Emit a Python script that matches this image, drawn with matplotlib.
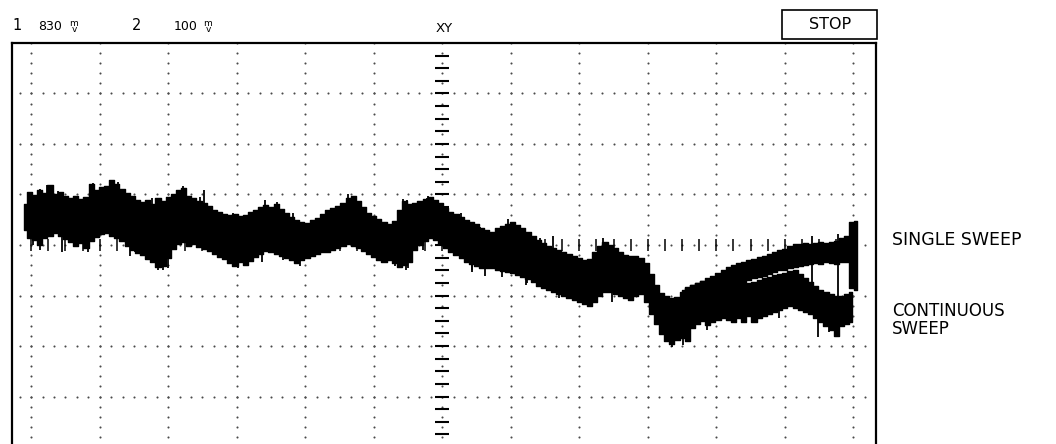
import numpy as np
import matplotlib
matplotlib.use("Agg")
import matplotlib.pyplot as plt
from matplotlib.patches import Rectangle

# ---------------------------------------------------------------------------
# Trace data, in screen divisions (x: time div, y: vertical div from centre)
# ---------------------------------------------------------------------------
T0 = -6.10          # time of first stored sample (div)
DT = 0.075          # sample spacing (div)

# Continuous-sweep persistence envelope (upper and lower edge of the band)
cont_top = [
    0.81, 1.05, 0.99, 1.09, 1.03, 1.19, 1.01, 1.05, 0.97, 0.93,
    0.97, 0.91, 0.95, 1.21, 1.09, 1.15, 1.17, 1.29, 1.21, 1.11,
    1.03, 0.97, 0.89, 0.85, 0.89, 0.81, 0.93, 0.87, 0.95, 1.01,
    1.09, 1.13, 0.97, 0.93, 0.87, 0.83, 0.77, 0.69, 0.65, 0.61,
    0.59, 0.61, 0.57, 0.59, 0.65, 0.69, 0.75, 0.79, 0.75, 0.81,
    0.71, 0.63, 0.55, 0.50, 0.46, 0.44, 0.50, 0.53, 0.61, 0.69,
    0.73, 0.77, 0.83, 0.93, 0.97, 0.87, 0.75, 0.63, 0.57, 0.51,
    0.46, 0.42, 0.48, 0.69, 0.87, 0.81, 0.83, 0.87, 0.91, 0.95,
    0.89, 0.83, 0.73, 0.65, 0.61, 0.55, 0.50, 0.46, 0.42, 0.34,
    0.30, 0.26, 0.34, 0.38, 0.42, 0.46, 0.40, 0.34, 0.26, 0.18,
    0.10, 0.04, -0.02, -0.06, -0.10, -0.14, -0.18, -0.22, -0.26, -0.30,
    -0.28, -0.14, -0.02, 0.06, 0.00, -0.06, -0.14, -0.20, -0.22, -0.22,
    -0.26, -0.36, -0.57, -0.79, -0.95, -1.01, -1.05, -1.03, -0.93, -0.85,
    -0.79, -0.75, -0.71, -0.87, -0.85, -0.85, -0.83, -0.81, -0.79, -0.77,
    -0.75, -0.75, -0.73, -0.69, -0.65, -0.63, -0.59, -0.57, -0.55, -0.51,
    -0.50, -0.57, -0.65, -0.73, -0.81, -0.89, -0.93, -0.97, -1.01, -1.01,
    -0.97, -0.93,
]
cont_bot = [
    0.30, 0.14, 0.10, 0.00, 0.14, 0.18, 0.24, 0.18, 0.12, 0.06,
    -0.02, 0.04, -0.06, 0.08, 0.16, 0.22, 0.24, 0.18, 0.14, 0.08,
    -0.02, -0.10, -0.16, -0.20, -0.28, -0.34, -0.44, -0.42, -0.26, -0.08,
    0.02, 0.06, -0.02, 0.02, -0.04, -0.08, -0.12, -0.18, -0.24, -0.28,
    -0.36, -0.42, -0.34, -0.40, -0.32, -0.24, -0.18, -0.12, -0.14, -0.18,
    -0.22, -0.26, -0.30, -0.36, -0.30, -0.26, -0.22, -0.18, -0.14, -0.14,
    -0.10, -0.06, -0.02, 0.02, -0.02, -0.06, -0.12, -0.18, -0.24, -0.30,
    -0.34, -0.30, -0.36, -0.44, -0.40, -0.34, -0.10, 0.00, 0.08, 0.14,
    0.10, 0.02, -0.06, -0.14, -0.20, -0.26, -0.34, -0.38, -0.42, -0.46,
    -0.46, -0.46, -0.50, -0.51, -0.53, -0.55, -0.59, -0.63, -0.67, -0.73,
    -0.81, -0.85, -0.89, -0.93, -0.97, -1.01, -1.05, -1.09, -1.13, -1.17,
    -1.21, -1.13, -1.01, -0.93, -0.93, -0.97, -1.01, -1.05, -1.09, -1.01,
    -0.97, -1.13, -1.37, -1.56, -1.76, -1.90, -1.96, -1.88, -1.84, -1.90,
    -1.64, -1.56, -1.50, -1.58, -1.52, -1.49, -1.45, -1.49, -1.52, -1.45,
    -1.52, -1.41, -1.52, -1.45, -1.41, -1.37, -1.33, -1.29, -1.25, -1.21,
    -1.25, -1.29, -1.33, -1.37, -1.45, -1.52, -1.60, -1.68, -1.80, -1.60,
    -1.56, -1.52,
]

# Single-sweep trace, separating from the persistence band near the right
SINGLE_START = 128  # sample index where the single-sweep record is stored
single_top = [
    -0.89, -0.83, -0.79, -0.75, -0.71, -0.65, -0.61, -0.55, -0.50, -0.44,
    -0.40, -0.36, -0.34, -0.30, -0.28, -0.24, -0.22, -0.18, -0.14, -0.10,
    -0.08, -0.02, 0.02, 0.02, 0.04, 0.02, 0.04, 0.06, 0.04, 0.06,
    0.08, 0.14, 0.18, 0.46, 0.48,
]
single_bot = [
    -1.17, -1.13, -1.09, -1.05, -1.01, -0.97, -0.93, -0.89, -0.85, -0.79,
    -0.77, -0.79, -0.73, -0.69, -0.65, -0.63, -0.61, -0.57, -0.53, -0.50,
    -0.50, -0.46, -0.44, -0.42, -0.40, -0.38, -0.36, -0.38, -0.34, -0.36,
    -0.38, -0.34, -0.34, -0.85, -0.89,
]

# Isolated noise spikes reaching beyond the band (time, extreme value)
spike_t = [-6.04, -5.87, -5.77, -5.61, -5.10, -4.97, -4.82, -4.73, -4.59,
           -4.24, -3.78, -3.54, -3.48, -3.05, -2.59, -2.41, -2.18, -1.38,
           -0.58, -0.52, -0.23, -0.21, 0.28, 0.55, 0.96, 1.13, 1.42, 1.61,
           2.35, 5.39, 5.77,
           -5.97, -5.87, -5.55, -5.17, -4.56, -4.48, -4.15, -4.08, -4.00,
           -2.98, -2.63, -2.33, -2.08, -0.69, -0.53, -0.50, -0.28, 0.43,
           0.44, 0.63, 0.87, 1.22, 1.23, 1.52, 1.71, 2.47, 3.35, 3.52,
           3.87, 4.92, 5.48, 5.65]
spike_v = [1.05, 1.11, 1.19, 1.07, 1.23, 1.13, 1.29, 1.25, 1.03,
           0.93, 1.17, 0.95, 1.09, 0.63, 0.89, 0.85, 0.63, 1.01,
           0.91, 0.89, 0.93, 0.97, 0.63, 0.36, 0.51, 0.40, 0.14, 0.18,
           0.14, 0.18, 0.22,
           0.00, -0.10, -0.14, -0.14, -0.22, -0.14, -0.50, -0.50, -0.46,
           -0.46, -0.34, -0.30, -0.42, -0.42, -0.50, -0.46, -0.10, -0.53,
           -0.50, -0.61, -0.63, -0.79, -0.75, -0.85, -1.05, -1.13, -2.02, -1.98,
           -1.68, -1.45, -1.82, -1.72]

# Annotation text
ch1_num, ch1_scale = "1", "830"
ch2_num, ch2_scale = "2", "100"
unit_label = "m\nv"
mode_label = "XY"
run_label = "STOP"
single_label = "SINGLE SWEEP"
cont_label = "CONTINUOUS\nSWEEP"

# ---------------------------------------------------------------------------
W, H = 1056, 444
fig = plt.figure(figsize=(W / 100, H / 100), dpi=100)
fig.patch.set_facecolor("white")

# Graticule frame: 12 x 8 divisions; bottom edge runs just past the page
ax = fig.add_axes([12 / W, -3 / H, 864 / W, 404 / H])
ax.set_xlim(-6.28, 6.33)
ax.set_ylim(-4, 4)
ax.set_xticks([])
ax.set_yticks([])
for s in ax.spines.values():
    s.set_linewidth(1.6)
    s.set_color("black")

dot_kw = dict(ls="none", marker="o", ms=1.5, mew=0, color="#4a4a4a", zorder=1)

# Dotted vertical graticule lines (5 dots per division)
vy = np.arange(-20, 21) * 0.2
for gx in range(-6, 7):
    ax.plot(np.full_like(vy, gx), vy, **dot_kw)

# Dotted horizontal graticule lines (6 dots per division)
hx = np.arange(-37, 38) / 6.0
hx = hx[(hx > -6.25) & (hx < 6.3)]
for gy in range(-3, 4):
    ax.plot(hx, np.full_like(hx, gy), **dot_kw)

# Centre axes with minor tick marks
cy = np.arange(-15, 16) * 0.25
ax.plot(np.zeros_like(cy), cy, ls="none", marker="_", ms=9.5, mew=1.5,
        color="black", zorder=2)
cx = np.arange(-24, 25) * 0.25
ax.plot(cx, np.zeros_like(cx), ls="none", marker="|", ms=8, mew=1.1,
        color="black", zorder=2)

# Persistence band (continuous sweep)
t_cont = T0 + DT * np.arange(len(cont_top))
ax.fill_between(t_cont, cont_bot, cont_top, step="mid", color="black",
                lw=1.0, edgecolor="black", zorder=3)

# Single sweep
t_single = T0 + DT * (SINGLE_START + np.arange(len(single_top)))
ax.fill_between(t_single, single_bot, single_top, step="mid", color="black",
                lw=1.0, edgecolor="black", zorder=3)

# Noise spikes, drawn from the middle of the band out to their extreme
mid = (np.array(cont_top) + np.array(cont_bot)) / 2
anchor = np.interp(spike_t, t_cont, mid)
ax.vlines(spike_t, anchor, spike_v, colors="black", lw=1.3, zorder=3)

# ---------------------------------------------------------------------------
def ftext(x, y, s, **kw):
    fig.text(x / W, 1 - y / H, s, color="black", family="DejaVu Sans", **kw)

ftext(12, 30, ch1_num, fontsize=10.5, va="baseline")
ftext(50, 30, ch1_scale, fontsize=9, va="baseline", ha="center")
ftext(74, 26.5, unit_label, fontsize=6.5, va="center", ha="center",
      linespacing=0.7)

ftext(132, 30, ch2_num, fontsize=10.5, va="baseline")
ftext(186, 30, ch2_scale, fontsize=9, va="baseline", ha="center")
ftext(208, 26.5, unit_label, fontsize=6.5, va="center", ha="center",
      linespacing=0.7)

ftext(444, 32, mode_label, fontsize=9.5, va="baseline", ha="center")

fig.patches.append(Rectangle((782 / W, 1 - 39 / H), 95 / W, 29 / H,
                             transform=fig.transFigure, fill=False,
                             lw=1.2, edgecolor="black"))
ftext(830, 24.5, run_label, fontsize=11.5, va="center", ha="center")

ftext(892, 240, single_label, fontsize=12.5, va="center", ha="left")
ftext(892, 320, cont_label, fontsize=12, va="center", ha="left",
      linespacing=1.05)

fig.savefig("out.png", dpi=100, facecolor="white")
